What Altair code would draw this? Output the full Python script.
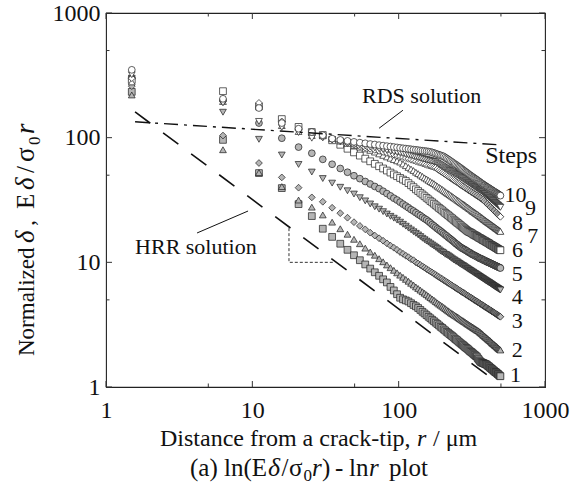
import altair as alt
import pandas as pd

# node positions ahead of the crack tip (um)
r_um = [1.5, 6.3, 11.1, 15.9, 20.7, 25.5, 30.3, 35.1, 39.9, 44.7,
        49.5, 54.3, 59.1, 63.9, 68.7, 73.5, 78.3, 83.1, 87.9, 92.7,
        97.5, 102.3, 107.1, 111.9, 116.7, 121.5, 126.3, 131.1, 135.9, 140.7,
        145.5, 150.3, 155.1, 159.9, 164.7, 169.5, 174.3, 179.1, 183.9, 188.7,
        193.5, 198.3, 203.1, 207.9, 212.7, 217.5, 222.3, 227.1, 231.9, 236.7,
        241.5, 246.3, 251.1, 255.9, 260.7, 265.5, 270.3, 275.1, 279.9, 284.7,
        289.5, 294.3, 299.1, 303.9, 308.7, 313.5, 318.3, 323.1, 327.9, 332.7,
        337.5, 342.3, 347.1, 351.9, 356.7, 361.5, 366.3, 371.1, 375.9, 380.7,
        385.5, 390.3, 395.1, 399.9, 404.7, 409.5, 414.3, 419.1, 423.9, 428.7,
        433.5, 438.3, 443.1, 447.9, 452.7, 457.5, 462.3, 467.1, 471.9, 476.7,
        481.5, 486.3, 491.1, 495.9]

# normalized opening E*delta/(sigma0*r) for each load step
step1 = [233, 96, 52, 39.4, 29.3, 23.5, 18.6, 16.0, 14.1, 12.6,
         11.4, 10.4, 9.62, 8.91, 8.32, 7.80, 7.31, 6.90, 6.35, 5.95,
         5.55, 5.20, 5.05, 4.95, 4.85, 4.70, 4.55, 4.44, 4.30, 4.15,
         4.01, 3.89, 3.77, 3.66, 3.56, 3.46, 3.37, 3.28, 3.20, 3.12,
         3.04, 2.98, 2.90, 2.84, 2.77, 2.72, 2.66, 2.61, 2.56, 2.51,
         2.45, 2.41, 2.37, 2.32, 2.28, 2.24, 2.20, 2.17, 2.13, 2.09,
         2.06, 2.03, 2.00, 1.96, 1.93, 1.91, 1.88, 1.85, 1.82, 1.80,
         1.77, 1.75, 1.70, 1.67, 1.63, 1.60, 1.58, 1.57, 1.56, 1.55,
         1.54, 1.53, 1.52, 1.51, 1.49, 1.47, 1.46, 1.44, 1.42, 1.41,
         1.39, 1.38, 1.36, 1.35, 1.33, 1.32, 1.31, 1.30, 1.28, 1.27,
         1.26, 1.24, 1.23, 1.22]
step2 = [220, 80, 52.5, 40.5, 31.6, 27.7, 24.0, 21.0, 18.6, 16.8,
         15.3, 14.1, 13.0, 12.1, 11.4, 10.7, 10.1, 9.53, 9.06, 8.63,
         8.24, 7.89, 7.59, 7.30, 7.05, 6.79, 6.58, 6.35, 6.17, 5.98,
         5.81, 5.65, 5.50, 5.35, 5.21, 5.08, 4.97, 4.84, 4.73, 4.62,
         4.53, 4.44, 4.35, 4.26, 4.17, 4.09, 4.02, 3.94, 3.88, 3.82,
         3.76, 3.71, 3.65, 3.60, 3.54, 3.49, 3.44, 3.40, 3.35, 3.31,
         3.26, 3.22, 3.18, 3.14, 3.10, 3.07, 3.03, 3.00, 2.96, 2.93,
         2.90, 2.86, 2.84, 2.81, 2.77, 2.74, 2.70, 2.67, 2.63, 2.59,
         2.56, 2.53, 2.50, 2.47, 2.44, 2.41, 2.38, 2.36, 2.33, 2.30,
         2.27, 2.24, 2.22, 2.20, 2.17, 2.15, 2.13, 2.11, 2.08, 2.06,
         2.04, 2.02, 2.00, 1.98]
step3 = [259, 104, 62.6, 48.0, 39.7, 33.2, 30.6, 27.4, 24.8, 22.8,
         21.0, 19.6, 18.4, 17.3, 16.4, 15.6, 14.9, 14.2, 13.6, 13.1,
         12.6, 12.1, 11.7, 11.3, 11.0, 10.6, 10.4, 10.0, 9.77, 9.53,
         9.29, 9.06, 8.83, 8.65, 8.45, 8.28, 8.09, 7.93, 7.76, 7.62,
         7.46, 7.35, 7.19, 7.08, 6.95, 6.84, 6.73, 6.62, 6.52, 6.41,
         6.31, 6.22, 6.14, 6.04, 5.96, 5.87, 5.79, 5.73, 5.65, 5.58,
         5.50, 5.43, 5.37, 5.30, 5.24, 5.19, 5.12, 5.07, 5.00, 4.95,
         4.90, 4.85, 4.80, 4.75, 4.70, 4.65, 4.60, 4.56, 4.52, 4.47,
         4.43, 4.39, 4.35, 4.31, 4.27, 4.23, 4.20, 4.16, 4.12, 4.08,
         4.05, 4.02, 3.99, 3.95, 3.92, 3.89, 3.85, 3.83, 3.79, 3.77,
         3.73, 3.71, 3.68, 3.66]
step4 = [300, 160, 97, 72.6, 61.0, 53.0, 47.0, 43.2, 40.0, 37.5,
         35.3, 33.0, 31.1, 29.4, 27.9, 26.7, 25.5, 24.4, 23.4, 22.6,
         21.8, 21.0, 20.2, 19.5, 18.8, 18.2, 17.6, 17.1, 16.6, 16.1,
         15.6, 15.2, 14.8, 14.5, 14.1, 13.8, 13.5, 13.2, 12.9, 12.6,
         12.3, 12.1, 11.9, 11.6, 11.5, 11.3, 11.1, 10.9, 10.7, 10.5,
         10.4, 10.2, 10.1, 9.93, 9.79, 9.66, 9.53, 9.42, 9.29, 9.16,
         9.04, 8.93, 8.81, 8.71, 8.61, 8.51, 8.41, 8.32, 8.22, 8.13,
         8.05, 7.96, 7.87, 7.80, 7.71, 7.64, 7.55, 7.48, 7.41, 7.33,
         7.26, 7.19, 7.12, 7.06, 7.00, 6.93, 6.89, 6.82, 6.76, 6.70,
         6.64, 6.58, 6.53, 6.47, 6.41, 6.37, 6.31, 6.27, 6.22, 6.17,
         6.12, 6.08, 6.04, 6.00]
step5 = [300, 200, 131, 99, 84, 75, 67.0, 61.2, 56.6, 52.8,
         49.5, 46.9, 44.5, 42.5, 40.6, 39.0, 37.2, 35.6, 34.1, 32.7,
         31.6, 30.4, 29.3, 28.3, 27.4, 26.5, 25.8, 25.0, 24.3, 23.7,
         23.0, 22.4, 21.9, 21.3, 20.7, 20.1, 19.6, 19.1, 18.6, 18.2,
         17.8, 17.4, 17.0, 16.6, 16.3, 15.9, 15.6, 15.3, 15.0, 14.7,
         14.4, 14.1, 13.9, 13.6, 13.4, 13.2, 13.0, 12.9, 12.7, 12.6,
         12.4, 12.3, 12.1, 12.0, 11.9, 11.7, 11.6, 11.5, 11.4, 11.3,
         11.2, 11.1, 11.0, 10.9, 10.8, 10.7, 10.7, 10.6, 10.5, 10.4,
         10.4, 10.3, 10.2, 10.1, 10.1, 10.0, 9.95, 9.89, 9.82, 9.77,
         9.70, 9.64, 9.59, 9.53, 9.46, 9.42, 9.35, 9.31, 9.25, 9.20,
         9.14, 9.10, 9.06, 9.00]
step6 = [290, 236, 178, 141, 122, 111, 105, 95.3, 87.7, 81.5,
         76.2, 71.8, 67.9, 64.6, 61.7, 59.0, 56.6, 54.5, 52.5, 50.7,
         49.1, 47.5, 46.1, 44.9, 43.2, 41.5, 40.1, 38.5, 37.3, 36.1,
         35.0, 33.9, 32.9, 32.0, 31.0, 30.3, 29.5, 28.7, 28.0, 27.3,
         26.7, 26.1, 25.5, 24.9, 24.4, 23.9, 23.4, 22.9, 22.5, 22.0,
         21.6, 21.2, 20.8, 20.5, 20.1, 19.8, 19.4, 19.1, 18.8, 18.5,
         18.2, 17.9, 17.7, 17.5, 17.4, 17.2, 17.0, 16.8, 16.6, 16.5,
         16.3, 16.2, 16.0, 15.8, 15.7, 15.6, 15.4, 15.3, 15.1, 15.0,
         14.9, 14.8, 14.6, 14.5, 14.4, 14.3, 14.2, 14.0, 13.9, 13.8,
         13.7, 13.6, 13.5, 13.4, 13.3, 13.2, 13.1, 13.0, 12.9, 12.8,
         12.7, 12.6, 12.6, 12.5]
step7 = [280, 195, 185, 125, 112, 104, 103.5, 98.2, 93.8, 89.9,
         86.7, 83.9, 81.3, 79.1, 76.6, 74.1, 72.1, 70.1, 68.4, 66.7,
         65.2, 63.7, 61.5, 59.6, 57.7, 56.0, 54.5, 52.8, 51.5, 50.1,
         48.9, 47.6, 46.6, 45.5, 44.5, 43.6, 42.8, 41.8, 40.8, 40.0,
         39.2, 38.5, 37.7, 36.9, 36.2, 35.6, 35.0, 34.4, 33.8, 33.2,
         32.7, 32.2, 31.6, 31.2, 30.7, 30.2, 29.8, 29.4, 29.0, 28.6,
         28.1, 27.8, 27.4, 27.0, 26.7, 26.3, 25.9, 25.6, 25.3, 25.0,
         24.7, 24.4, 24.2, 23.8, 23.6, 23.3, 23.0, 22.8, 22.5, 22.2,
         22.0, 21.8, 21.5, 21.3, 21.1, 20.9, 20.7, 20.5, 20.3, 20.1,
         19.9, 19.7, 19.5, 19.4, 19.2, 19.0, 18.8, 18.7, 18.5, 18.4,
         18.2, 18.0, 17.9, 17.7]
step8 = [300, 195, 190, 135, 115, 106, 101, 96.8, 93.3, 90.4,
         87.7, 85.3, 83.2, 81.5, 79.8, 78.3, 76.7, 75.5, 74.3, 73.3,
         72.1, 71.0, 69.8, 68.5, 67.6, 66.5, 65.6, 64.6, 63.7, 63.0,
         62.1, 61.4, 60.5, 59.8, 59.3, 58.6, 57.9, 57.4, 56.0, 54.8,
         53.7, 52.7, 51.8, 50.8, 49.9, 49.0, 48.1, 47.3, 46.6, 45.8,
         45.1, 44.4, 43.7, 43.1, 42.5, 41.8, 41.2, 40.7, 40.1, 39.6,
         39.1, 38.5, 38.1, 37.6, 37.2, 36.7, 36.3, 35.9, 35.5, 35.1,
         34.7, 34.3, 34.0, 33.6, 33.2, 32.9, 32.5, 32.2, 31.8, 31.5,
         31.0, 30.6, 30.1, 29.7, 29.4, 29.0, 28.6, 28.2, 27.8, 27.5,
         27.1, 26.7, 26.4, 26.1, 25.8, 25.5, 25.1, 24.9, 24.5, 24.3,
         23.9, 23.7, 23.4, 23.2]
step9 = [320, 190, 135, 121, 110, 99, 100, 96.7, 93.8, 91.4,
         89.3, 87.5, 85.7, 84.1, 82.8, 81.5, 80.4, 79.3, 78.3, 77.3,
         76.4, 75.5, 74.5, 73.5, 72.6, 71.8, 71.0, 70.1, 69.3, 68.7,
         67.9, 67.3, 66.7, 66.1, 65.5, 64.9, 64.4, 63.7, 62.4, 61.4,
         60.3, 59.3, 58.2, 57.3, 56.4, 55.5, 54.6, 53.8, 53.0, 52.2,
         51.5, 50.8, 50.1, 49.4, 48.8, 48.0, 47.3, 46.8, 46.0, 45.5,
         44.9, 44.3, 43.8, 43.2, 42.7, 42.2, 41.7, 41.2, 40.7, 40.3,
         39.8, 39.4, 39.0, 38.5, 38.1, 37.8, 37.3, 37.0, 36.6, 36.1,
         35.7, 35.3, 34.8, 34.4, 34.0, 33.6, 33.2, 32.8, 32.4, 32.0,
         31.6, 31.3, 31.0, 30.6, 30.3, 30.0, 29.6, 29.3, 29.0, 28.7,
         28.4, 28.1, 27.9, 27.6]
step10 = [350, 205, 173, 131, 118, 111, 104.7, 98.2, 95.9, 94.2,
          92.5, 91.2, 90.1, 88.9, 88.1, 87.1, 86.3, 85.5, 84.9, 84.1,
          83.5, 82.8, 82.2, 81.7, 81.3, 80.7, 80.2, 79.8, 79.4, 78.9,
          78.5, 78.2, 77.8, 77.4, 76.9, 76.1, 75.3, 74.5, 73.6, 72.9,
          72.1, 71.4, 70.6, 69.3, 68.1, 67.0, 65.8, 64.7, 63.6, 62.5,
          61.5, 60.7, 59.6, 58.6, 57.8, 56.9, 56.0, 55.2, 54.3, 53.5,
          52.7, 52.0, 51.2, 50.5, 49.8, 49.2, 48.6, 48.0, 47.4, 46.9,
          46.3, 45.8, 45.3, 44.7, 44.2, 43.7, 43.2, 42.8, 42.3, 41.8,
          41.5, 41.1, 40.6, 40.3, 40.0, 39.6, 39.3, 38.9, 38.6, 38.3,
          37.9, 37.6, 37.3, 37.0, 36.7, 36.5, 36.1, 35.9, 35.6, 35.3,
          35.0, 34.8, 34.5, 34.3]

step_names = ["1", "2", "3", "4", "5", "6", "7", "8", "9", "10"]
step_values = [step1, step2, step3, step4, step5, step6, step7, step8, step9, step10]
marker_shapes = ["square", "triangle-up", "diamond", "triangle-down", "circle",
                 "square", "triangle-up", "diamond", "triangle-down", "circle"]
marker_fills = ["#b5b5b5"] * 5 + ["#ffffff"] * 5

# theoretical solutions (end points of straight lines on log-log axes)
hrr_r = [1.58, 421]
hrr_v = [161, 1.2]
rds_r = [1.58, 509]
rds_v = [134, 87.3]
# slope triangle under the HRR line
tri_r = [17.8, 17.8, 36.5]
tri_v = [18.8, 10.0, 10.0]

# step labels at the right-hand end of each curve
lab_text = ["10", "9", "8", "7", "6", "5", "4", "3", "2", "1"]
lab_r = [529, 731, 596, 755, 596, 592, 592, 592, 592, 577]
lab_v = [30.6, 23.9, 18.2, 14.3, 11.0, 7.08, 4.63, 2.97, 1.75, 1.10]

major_ticks = [1, 10, 100, 1000]
minor_ticks = [5, 50, 500]

W, H = 439, 374
FONT = "Liberation Serif"
INK = "#111111"

rows = []
for name, vals in zip(step_names, step_values):
    for r, v in zip(r_um, vals):
        rows.append({"r": r, "v": v, "step": name})
points_df = pd.DataFrame(rows)

xs = alt.Scale(type="log", domain=[1, 1000])
ys = alt.Scale(type="log", domain=[1, 1000])

points = alt.Chart(points_df).mark_point(
    filled=True, stroke="#1c1c1c", strokeWidth=0.7, opacity=1, size=46
).encode(
    x=alt.X("r:Q", scale=xs, title=None,
            axis=alt.Axis(values=major_ticks, format="d", ticks=False, tickSize=0,
                          domain=False, grid=False, labelPadding=30,
                          labelBaseline="alphabetic", labelFlush=False,
                          labelOverlap=False)),
    y=alt.Y("v:Q", scale=ys, title=None,
            axis=alt.Axis(values=major_ticks, format="d", ticks=False, tickSize=0,
                          domain=False, grid=False, labelPadding=6,
                          labelFlush=False, labelOverlap=False)),
    shape=alt.Shape("step:N", scale=alt.Scale(domain=step_names, range=marker_shapes), legend=None),
    fill=alt.Fill("step:N", scale=alt.Scale(domain=step_names, range=marker_fills), legend=None),
)

hrr = alt.Chart(pd.DataFrame({"r": hrr_r, "v": hrr_v})).mark_line(
    color=INK, strokeWidth=1.6, strokeDash=[19, 16]
).encode(x=alt.X("r:Q", title=None), y=alt.Y("v:Q", title=None))

rds = alt.Chart(pd.DataFrame({"r": rds_r, "v": rds_v})).mark_line(
    color=INK, strokeWidth=1.4, strokeDash=[14, 6, 3, 6]
).encode(x=alt.X("r:Q", title=None), y=alt.Y("v:Q", title=None))

tri = alt.Chart(pd.DataFrame({"r": tri_r, "v": tri_v, "o": [0, 1, 2]})).mark_line(
    color="#333333", strokeWidth=1, strokeDash=[3, 2]
).encode(x=alt.X("r:Q", title=None), y=alt.Y("v:Q", title=None), order="o:O")

# leader lines from the annotations to the curves
leaders = alt.Chart(pd.DataFrame({
    "r": [107, 4.19], "v": [166, 17.2], "r2": [73.5, 9.35], "v2": [119, 25.8]
})).mark_rule(color=INK, strokeWidth=1).encode(
    x=alt.X("r:Q", title=None), y=alt.Y("v:Q", title=None), x2="r2:Q", y2="v2:Q"
)

notes = alt.Chart(pd.DataFrame({
    "r": [56.2, 1.58], "v": [189, 11.7], "label": ["RDS solution", "HRR solution"]
})).mark_text(font=FONT, fontSize=22, align="left", baseline="alphabetic", color=INK).encode(
    x=alt.X("r:Q", title=None), y=alt.Y("v:Q", title=None), text="label:N"
)

steps_title = alt.Chart(pd.DataFrame({"r": [390], "v": [62.5], "label": ["Steps"]})).mark_text(
    font=FONT, fontSize=24, align="left", baseline="alphabetic", color=INK
).encode(x=alt.X("r:Q", title=None), y=alt.Y("v:Q", title=None), text="label:N")

step_labels = alt.Chart(pd.DataFrame({"r": lab_r, "v": lab_v, "label": lab_text})).mark_text(
    font=FONT, fontSize=22, align="left", baseline="alphabetic", color=INK
).encode(x=alt.X("r:Q", title=None), y=alt.Y("v:Q", title=None), text="label:N")

# inward tick marks on all four sides of the frame
def tick_layers(values, length):
    tx = pd.DataFrame({"r": values})
    ty = pd.DataFrame({"v": values})
    style = dict(color="#333333", strokeWidth=1)
    return [
        alt.Chart(tx).mark_rule(**style).encode(x=alt.X("r:Q", title=None), y=alt.value(H), y2=alt.value(H - length)),
        alt.Chart(tx).mark_rule(**style).encode(x=alt.X("r:Q", title=None), y=alt.value(0), y2=alt.value(length)),
        alt.Chart(ty).mark_rule(**style).encode(y=alt.Y("v:Q", title=None), x=alt.value(0), x2=alt.value(length)),
        alt.Chart(ty).mark_rule(**style).encode(y=alt.Y("v:Q", title=None), x=alt.value(W), x2=alt.value(W - length)),
    ]

ticks = tick_layers(major_ticks, 6) + tick_layers(minor_ticks, 3.5)

one_row = pd.DataFrame({"k": [0]})

def piece(text, px, py, size, italic=False, angle=0):
    return alt.Chart(one_row).mark_text(
        text=text, font=FONT, fontSize=size, fontStyle="italic" if italic else "normal",
        align="left", baseline="alphabetic", angle=angle, color=INK
    ).encode(x=alt.value(px - 106), y=alt.value(py - 13))

# axis titles and caption, built from upright, italic and subscript runs
x_title = [
    piece("Distance from a crack-tip,", 160, 446, 24),
    piece("r", 417, 446, 24, italic=True),
    piece("/ \u03bcm", 433, 446, 24),
]
y_title = [
    piece("Normalized", 34, 356, 23, angle=270),
    piece("\u03b4", 34, 243, 27, italic=True, angle=270),
    piece(",", 34, 226, 24, angle=270),
    piece("E", 34, 209, 25, angle=270),
    piece("\u03b4", 34, 190, 27, italic=True, angle=270),
    piece("/", 34, 173, 25, angle=270),
    piece("\u03c3", 34, 162, 27, angle=270),
    piece("0", 40, 145, 17, angle=270),
    piece("r", 34, 134, 27, italic=True, angle=270),
]
caption = [
    piece("(a) ln(E", 190, 476, 25),
    piece("\u03b4", 268, 476, 26, italic=True),
    piece("/", 281.5, 476, 25),
    piece("\u03c3", 289, 476, 25),
    piece("0", 303.5, 481, 17),
    piece("r", 312, 476, 25, italic=True),
    piece(")", 322, 476, 25),
    piece("-", 335, 476, 25),
    piece("ln", 349, 476, 25),
    piece("r", 369, 476, 25, italic=True),
    piece("plot", 389, 476, 25),
]

chart = alt.layer(
    points, hrr, rds, tri, leaders, notes, steps_title, step_labels,
    *ticks, *x_title, *y_title, *caption
).properties(
    width=W, height=H,
    padding={"left": 106, "top": 13, "right": 41, "bottom": 101},
    autosize=alt.AutoSizeParams(type="none"),
    background="white",
).configure_view(
    stroke="#222222", strokeWidth=1.1
).configure_axis(
    labelFont=FONT, labelFontSize=24, labelColor=INK
)

chart.save("out.html", embed_options={"renderer": "svg", "actions": False})
